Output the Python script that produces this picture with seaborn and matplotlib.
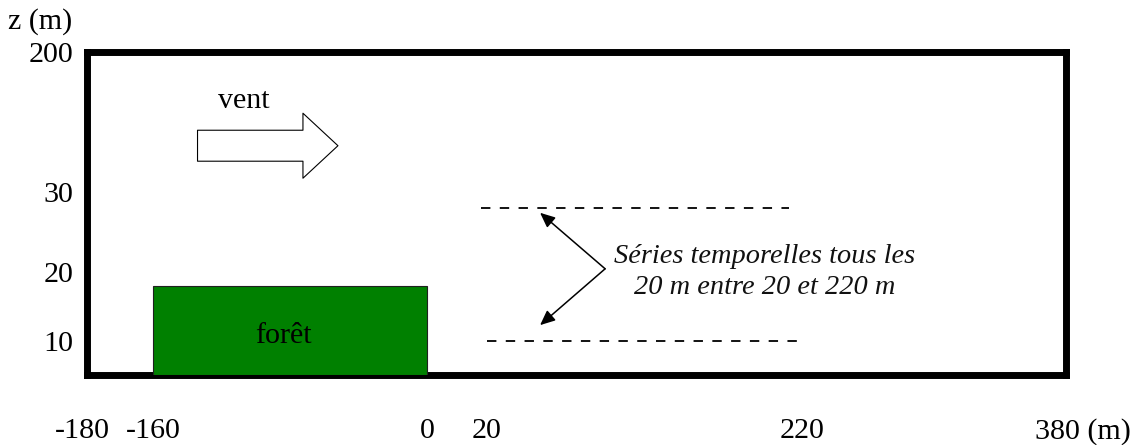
import numpy as np
import pandas as pd
import matplotlib
matplotlib.use('Agg')
import matplotlib.pyplot as plt
import matplotlib.transforms as mtransforms
import seaborn as sns

## values (metres)
x_ticks = [-180, -160, 0, 20, 220, 380]
x_ticklabels = ['-180', '-160', '0', '20', '220', '380 (m)']
z_ticks = [10, 20, 30, 200]
z_ticklabels = ['10', '20', '30', '200']

forest_start = -160
forest_end = 0
forest_height = 18

series_z = [28, 10]
series_x_start = [18, 20]
series_x_end = [212, 218]

wind_tail = (-134, 86)
wind_tip = (-52, 86)
note_origin = (95, 20.4)
note_targets = [(53.7, 27.4), (53.7, 12.3)]

## sketch is not to scale: piecewise mapping of metres onto the drawing
x_knots = [-180, -160, 0, 20, 220, 380]
x_knots_px = [86.5, 153, 427, 487, 802, 1066]
z_knots = [0, 10, 20, 30, 200]
z_knots_px = [0, 34, 103, 183, 323.5]


def x_fwd(v):
    return np.interp(v, x_knots, x_knots_px)


def x_inv(v):
    return np.interp(v, x_knots_px, x_knots)


def z_fwd(v):
    return np.interp(v, z_knots, z_knots_px)


def z_inv(v):
    return np.interp(v, z_knots_px, z_knots)


sns.set_theme(style='white')
plt.rcParams['font.family'] = ['Liberation Serif', 'DejaVu Serif']
plt.rcParams['text.color'] = 'black'
fs = 21.6

fig = plt.figure(figsize=(11.4, 4.45), dpi=100)
ax = fig.add_axes([86.5 / 1140, 70 / 445, (1066 - 86.5) / 1140, 323.5 / 445])
ax.set_xscale('function', functions=(x_fwd, x_inv))
ax.set_yscale('function', functions=(z_fwd, z_inv))

### dashed lines where the time series are taken
lines = pd.DataFrame({
    'x': series_x_start + series_x_end,
    'z': series_z + series_z,
    'line': [0, 1, 0, 1],
})
sns.lineplot(data=lines, x='x', y='z', units='line', estimator=None,
             color='black', lw=1.3, linestyle=(0, (5.2, 5.2)), ax=ax, legend=False)

### forest block
ax.bar(forest_start, forest_height, width=forest_end - forest_start, align='edge',
       color='#008000', edgecolor='#202020', linewidth=0.8, zorder=3)
ax.text(-84, 9.4, 'forêt', ha='center', va='baseline', fontsize=fs, color='black', zorder=4)

### wind arrow
ax.annotate('', xy=wind_tip, xytext=wind_tail,
            arrowprops=dict(arrowstyle='simple,head_length=25.2,head_width=46.8,tail_width=22.3',
                            mutation_scale=1, fc='white', ec='black', lw=0.8,
                            shrinkA=0, shrinkB=0))
ax.text(-107, 131.6, 'vent', ha='center', va='baseline', fontsize=fs, color='black')

### note arrows
for tgt in note_targets:
    ax.annotate('', xy=tgt, xytext=note_origin,
                arrowprops=dict(arrowstyle='-|>,head_length=0.45,head_width=0.2',
                                mutation_scale=20, color='black', lw=1.1,
                                shrinkA=0, shrinkB=0))
ax.text(196, 21.1, 'Séries temporelles tous les', ha='center', va='baseline',
        fontsize=20.4, fontstyle='italic', color='#111111')
ax.text(196, 16.8, '20 m entre 20 et 220 m', ha='center', va='baseline',
        fontsize=20.4, fontstyle='italic', color='#111111')

ax.set_xlim(-180, 380)
ax.set_ylim(0, 200)
ax.set_xticks(x_ticks)
ax.set_xticklabels(x_ticklabels)
ax.set_yticks(z_ticks)
ax.set_yticklabels(z_ticklabels)
ax.minorticks_off()
ax.tick_params(axis='x', length=0, pad=31, labelsize=fs, colors='black')
ax.tick_params(axis='y', length=0, pad=9.7, labelsize=fs, colors='black')
ax.set(xlabel='', ylabel='')
ax.grid(False)

# last label carries the unit, shift it so the number sits under the frame corner
last = ax.get_xticklabels()[-1]
last.set_ha('left')
last.set_transform(last.get_transform() + mtransforms.ScaledTranslation(-31 / 100, 0, fig.dpi_scale_trans))
first = ax.get_xticklabels()[0]
first.set_transform(first.get_transform() + mtransforms.ScaledTranslation(-4 / 100, 0, fig.dpi_scale_trans))

for sp in ax.spines.values():
    sp.set_color('black')
    sp.set_linewidth(5)
    sp.set_visible(True)

fig.text(8 / 1140, (445 - 29) / 445, 'z (m)', ha='left', va='baseline', fontsize=fs, color='black')

fig.savefig('out.png', dpi=100)
